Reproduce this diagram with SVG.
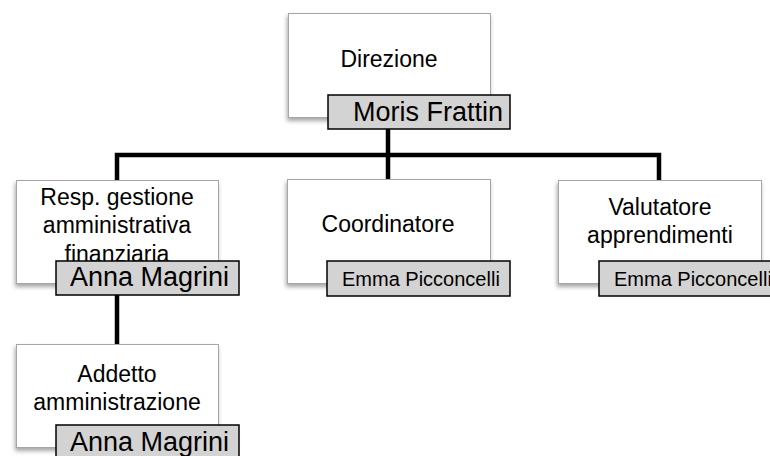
<svg xmlns="http://www.w3.org/2000/svg" width="770" height="456" viewBox="0 0 770 456">
  <defs>
    <filter id="sh" x="-10%" y="-10%" width="125%" height="130%">
      <feDropShadow dx="-1" dy="3" stdDeviation="2" flood-color="#000" flood-opacity="0.35"/>
    </filter>
    <style>
      .box { fill: #ffffff; stroke: #a6a6a6; stroke-width: 1; filter: url(#sh); }
      .name { fill: #d3d3d3; stroke: #000000; stroke-width: 1.5; }
      .lbl { font-family: "Liberation Sans", Arial, sans-serif; font-size: 23px; fill: #000; text-anchor: middle; }
      .nm { font-family: "Liberation Sans", Arial, sans-serif; font-size: 27px; fill: #000; }
      .nms { font-family: "Liberation Sans", Arial, sans-serif; font-size: 20px; fill: #000; }
      .conn { fill: none; stroke: #000000; stroke-width: 4.5; }
    </style>
  </defs>
  <rect width="770" height="456" fill="#ffffff"/>

  <g id="connectors">
    <path class="conn" d="M388 128 V155 M117 180 V155 H659 V180 M388 155 V180 M117 295 V344"/>
  </g>

  <g id="direzione">
    <rect class="box" x="288.5" y="13.5" width="202" height="104"/>
    <text class="lbl" x="389" y="67">Direzione</text>
    <rect class="name" x="328" y="95" width="182" height="34"/>
    <text class="nm" x="353" y="121">Moris Frattin</text>
  </g>

  <g id="resp">
    <rect class="box" x="16.5" y="180.5" width="202" height="103"/>
    <text class="lbl" x="117" y="205">Resp. gestione</text>
    <text class="lbl" x="117" y="233">amministrativa</text>
    <text class="lbl" x="117" y="262">finanziaria</text>
    <rect class="name" x="56" y="261" width="183" height="34"/>
    <text class="nm" x="70" y="286">Anna Magrini</text>
  </g>

  <g id="coordinatore">
    <rect class="box" x="287.5" y="179.5" width="203" height="104"/>
    <text class="lbl" x="388" y="232">Coordinatore</text>
    <rect class="name" x="327" y="261" width="183" height="35"/>
    <text class="nms" x="342" y="286">Emma Picconcelli</text>
  </g>

  <g id="valutatore">
    <rect class="box" x="558.5" y="180.5" width="203" height="103"/>
    <text class="lbl" x="660" y="215">Valutatore</text>
    <text class="lbl" x="660" y="243">apprendimenti</text>
    <rect class="name" x="599" y="261" width="180" height="35"/>
    <text class="nms" x="614" y="286">Emma Picconcelli</text>
  </g>

  <g id="addetto">
    <rect class="box" x="16.5" y="344.5" width="202" height="103"/>
    <text class="lbl" x="117" y="382">Addetto</text>
    <text class="lbl" x="117" y="410">amministrazione</text>
    <rect class="name" x="56" y="425" width="183" height="40"/>
    <text class="nm" x="70" y="451">Anna Magrini</text>
  </g>
</svg>
